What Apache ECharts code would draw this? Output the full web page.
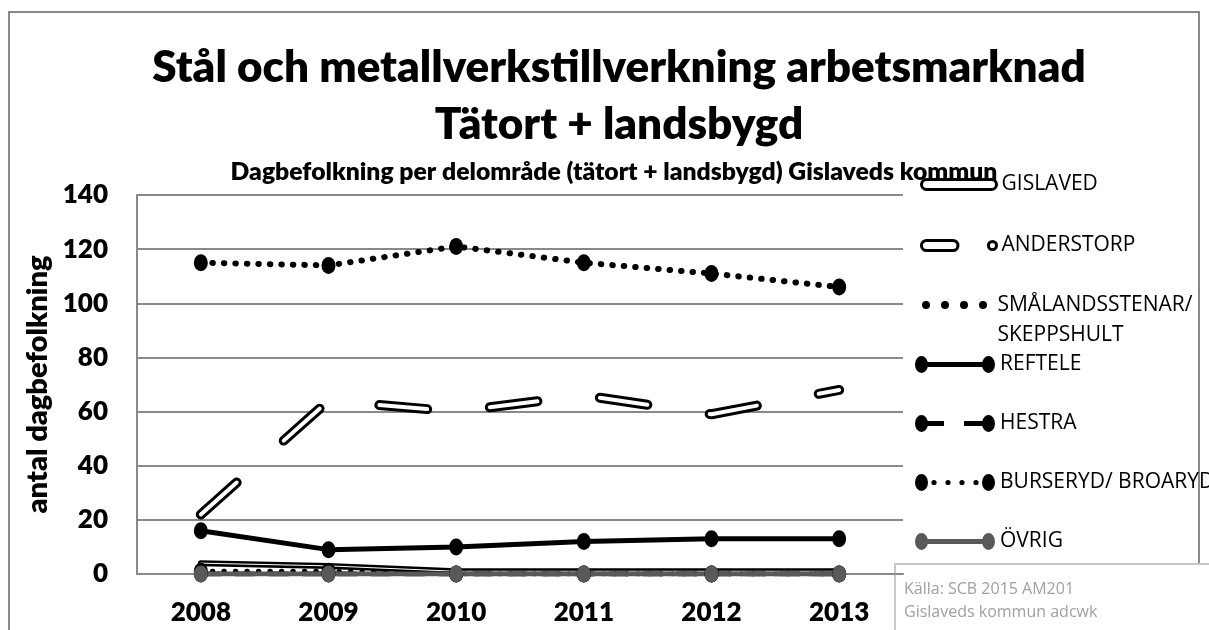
<!DOCTYPE html>
<html>
<head>
<meta charset="utf-8">
<script src="https://cdn.jsdelivr.net/npm/echarts@6/dist/echarts.min.js"></script>
<style>
  html, body { margin: 0; padding: 0; background: #fff; }
  #chart { width: 1209px; height: 630px; }
</style>
</head>
<body>
<div id="chart"></div>
<script>
// values
const years = ['2008', '2009', '2010', '2011', '2012', '2013']
const gislaved = [4, 3, 1, 1, 1, 1]
const anderstorp = [22, 64, 60, 66, 59, 68]
const smalandsstenar = [115, 114, 121, 115, 111, 106]
const reftele = [16, 9, 10, 12, 13, 13]
const hestra = [0, 0, 0, 0, 0, 0]
const burseryd = [1, 1, 0, 0, 0, 0]
const ovrig = [0, 0, 0, 0, 0, 0]
const yMin = 0, yMax = 140, yStep = 20

const chart = echarts.init(document.getElementById('chart'))
const grey = '#898989'
const marker = [14, 17]
const dots = [0.5, 11]
const legendText = { fontFamily: 'Open Sans', fontSize: 21, color: '#000', lineHeight: 20 }

// legend icons drawn like the Excel ones (marker at both ends)
const ell = (cx, cy, rx, ry) =>
  `M${cx - rx},${cy} A${rx},${ry} 0 1 1 ${cx + rx},${cy} A${rx},${ry} 0 1 1 ${cx - rx},${cy} Z`
const bar = (x1, x2) => `M${x1},6 L${x2},6 L${x2},11 L${x1},11 Z`
const ends = ell(6.5, 8.5, 6.5, 8.5) + ' ' + ell(73.5, 8.5, 6.5, 8.5)
const solidIcon = 'path://' + ends + ' ' + bar(12, 68)
const dashIcon = 'path://' + ends + ' ' + bar(12, 29) + ' ' + bar(49, 68)
const dotIcon = 'path://' + ends + ' ' + [19, 33, 47, 61].map(x => ell(x, 8.5, 2.6, 2.6)).join(' ')
const roundDotIcon = 'path://' + [4, 23, 42, 61].map(x => ell(x, 4, 4, 4)).join(' ')
const capsuleIcon = 'path://M5,0 L70,0 A5,5 0 0 1 70,10 L5,10 A5,5 0 0 1 5,0 Z'
const dashCapsuleIcon = 'path://M5,1 L31,1 A5,5 0 0 1 31,11 L5,11 A5,5 0 0 1 5,1 Z M66,6 A4,4 0 1 1 74,6 A4,4 0 1 1 66,6 Z'
const outlined = { color: '#fff', borderColor: '#000', borderWidth: 3, opacity: 1 }

function legendFor(name, icon, centerY, extra) {
  return Object.assign({
    data: [{ name: name, icon: icon, itemStyle: { borderWidth: 0 } }],
    left: 915, top: centerY - 10,
    padding: 0, itemWidth: 80, itemHeight: 17,
    selectedMode: false,
    textStyle: legendText,
  }, extra)
}

chart.setOption({
  animation: false,
  backgroundColor: '#fff',
  title: [
    {
      text: 'Stål och metallverkstillverkning arbetsmarknad\nTätort + landsbygd',
      left: 619, top: 39, padding: 0, textAlign: 'center',
      textStyle: { fontFamily: 'Lato', fontWeight: 800, fontSize: 44, lineHeight: 57, color: '#000' },
    },
    {
      text: 'Dagbefolkning per delområde (tätort + landsbygd) Gislaveds kommun',
      left: 614, top: 160, padding: 0, textAlign: 'center',
      textStyle: { fontFamily: 'Lato', fontWeight: 800, fontSize: 24.7, lineHeight: 24, color: '#000' },
    },
  ],
  legend: [
    legendFor('GISLAVED', capsuleIcon, 184, {
      left: 920, itemWidth: 75, itemHeight: 10, top: 174,
      data: [{ name: 'GISLAVED', icon: capsuleIcon, itemStyle: outlined }],
    }),
    legendFor('ANDERSTORP', dashCapsuleIcon, 245, {
      left: 920, itemWidth: 75, itemHeight: 12, top: 235,
      data: [{ name: 'ANDERSTORP', icon: dashCapsuleIcon, itemStyle: outlined }],
    }),
    legendFor('SMÅLANDSSTENAR/ SKEPPSHULT', roundDotIcon, 305, {
      left: 922, top: 260, itemWidth: 65, itemHeight: 8,
      formatter: () => '\n SMÅLANDSSTENAR/\n SKEPPSHULT',
      textStyle: Object.assign({}, legendText, { lineHeight: 30 }),
    }),
    legendFor('REFTELE', solidIcon, 364),
    legendFor('HESTRA', dashIcon, 423),
    legendFor('BURSERYD/ BROARYD', dotIcon, 482),
    legendFor('ÖVRIG', solidIcon, 541),
  ],
  grid: { left: 137, right: 306, top: 195, bottom: 56, outerBoundsMode: 'none' },
  xAxis: {
    type: 'category', data: years, boundaryGap: true,
    axisLine: { show: true, lineStyle: { color: grey, width: 2 } },
    axisTick: { show: false },
    axisLabel: { color: '#000', fontFamily: 'Lato', fontWeight: 800, fontSize: 26, margin: 26 },
    splitLine: { show: false },
  },
  yAxis: {
    type: 'value', min: yMin, max: yMax, interval: yStep,
    name: 'antal dagbefolkning', nameLocation: 'middle', nameGap: 85, nameRotate: 90,
    nameTextStyle: { color: '#000', fontFamily: 'Lato', fontWeight: 800, fontSize: 29 },
    axisLine: { show: true, lineStyle: { color: grey, width: 2 } },
    axisTick: { show: false },
    axisLabel: { color: '#000', fontFamily: 'Lato', fontWeight: 800, fontSize: 26, margin: 29 },
    splitLine: { lineStyle: { color: grey, width: 2 } },
  },
  series: [
    {
      name: 'GISLAVED', type: 'line', data: gislaved, symbol: 'none',
      lineStyle: { color: '#000', width: 6, cap: 'round' }, itemStyle: { color: '#000' },
    },
    {
      name: 'GISLAVED inner', type: 'line', data: gislaved, symbol: 'none', silent: true,
      lineStyle: { color: '#fff', width: 1, cap: 'round' }, itemStyle: { color: '#fff' },
    },
    {
      name: 'ANDERSTORP', type: 'line', data: anderstorp, symbol: 'none',
      lineStyle: { color: '#000', width: 10, type: [48, 63], cap: 'round' }, itemStyle: { color: '#000' },
    },
    {
      name: 'ANDERSTORP inner', type: 'line', data: anderstorp, symbol: 'none', silent: true,
      lineStyle: { color: '#fff', width: 4, type: [48, 63], cap: 'round' }, itemStyle: { color: '#fff' },
    },
    {
      name: 'SMÅLANDSSTENAR/ SKEPPSHULT', type: 'line', data: smalandsstenar,
      symbol: 'circle', symbolSize: marker,
      lineStyle: { color: '#000', width: 6, type: dots, cap: 'round' }, itemStyle: { color: '#000' },
    },
    {
      name: 'REFTELE', type: 'line', data: reftele, symbol: 'circle', symbolSize: marker,
      lineStyle: { color: '#000', width: 5 }, itemStyle: { color: '#000' },
    },
    {
      name: 'HESTRA', type: 'line', data: hestra, symbol: 'circle', symbolSize: marker,
      lineStyle: { color: '#000', width: 5, type: [20, 14] }, itemStyle: { color: '#000' },
    },
    {
      name: 'BURSERYD/ BROARYD', type: 'line', data: burseryd, symbol: 'circle', symbolSize: marker,
      lineStyle: { color: '#000', width: 5, type: dots, cap: 'round' }, itemStyle: { color: '#000' },
    },
    {
      name: 'ÖVRIG', type: 'line', data: ovrig, symbol: 'circle', symbolSize: marker,
      lineStyle: { color: '#595959', width: 5 }, itemStyle: { color: '#595959' },
    },
  ],
  graphic: [
    {
      type: 'rect', z: -10, silent: true,
      shape: { x: 9, y: 12, width: 1190, height: 650 },
      style: { fill: 'none', stroke: grey, lineWidth: 2 },
    },
    {
      type: 'group', left: 894, top: 563, z: 100,
      children: [
        { type: 'rect', shape: { x: 0, y: 0, width: 330, height: 80 }, style: { fill: '#fff', stroke: '#c8c8c8', lineWidth: 2 } },
        { type: 'text', x: 9, y: 25, style: { text: 'Källa: SCB 2015 AM201', fill: '#a0a0a0', font: '16px "Open Sans"', textVerticalAlign: 'middle' } },
        { type: 'text', x: 9, y: 48, style: { text: 'Gislaveds kommun adcwk', fill: '#a0a0a0', font: '16px "Open Sans"', textVerticalAlign: 'middle' } },
      ],
    },
  ],
})
</script>
</body>
</html>
